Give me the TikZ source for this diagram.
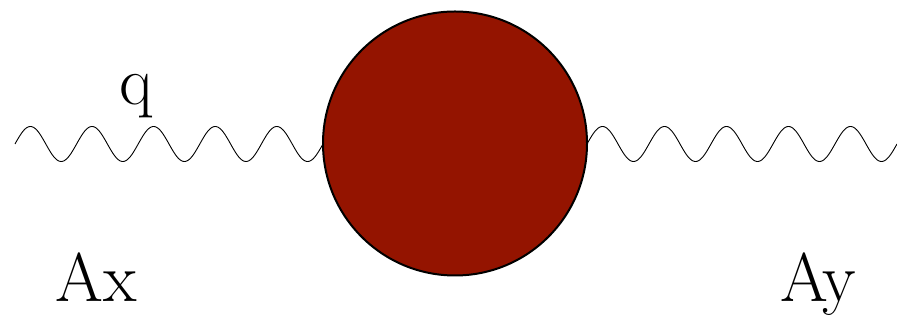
\documentclass[tikz,border=0pt]{standalone}
\definecolor{blobred}{RGB}{148,20,0}
\tikzset{
	photon/.style = {line width = 0.9pt, samples = 300, smooth},
	blob/.style = {circle, draw, line width = 2pt, fill = blobred, inner sep = 0pt, minimum size = 264pt},
	bigtext/.style = {anchor = base, inner sep = 0pt, font = \fontsize{69}{80}\selectfont}
}
\begin{document}
\begin{tikzpicture} [x = 1pt, y = 1pt]
	\useasboundingbox (0,0) rectangle (897,323);
	% 360/61.6 = 5.8442, 360/62 = 5.8065
	\draw [photon, domain = 15:323] plot (\x, {179 + 17.5*sin((\x - 15)*5.8442)});
	\draw [photon, domain = 587:897] plot (\x, {179 + 17.5*sin((\x - 587)*5.8065)});
	\node [blob] (blob) at (455,179.5) {};
	\node [bigtext] (q) at (136.5,218) {q};
	\node [bigtext] (ax) at (96.5,21) {Ax};
	\node [bigtext] (ay) at (818,21) {Ay};
\end{tikzpicture}
\end{document}
